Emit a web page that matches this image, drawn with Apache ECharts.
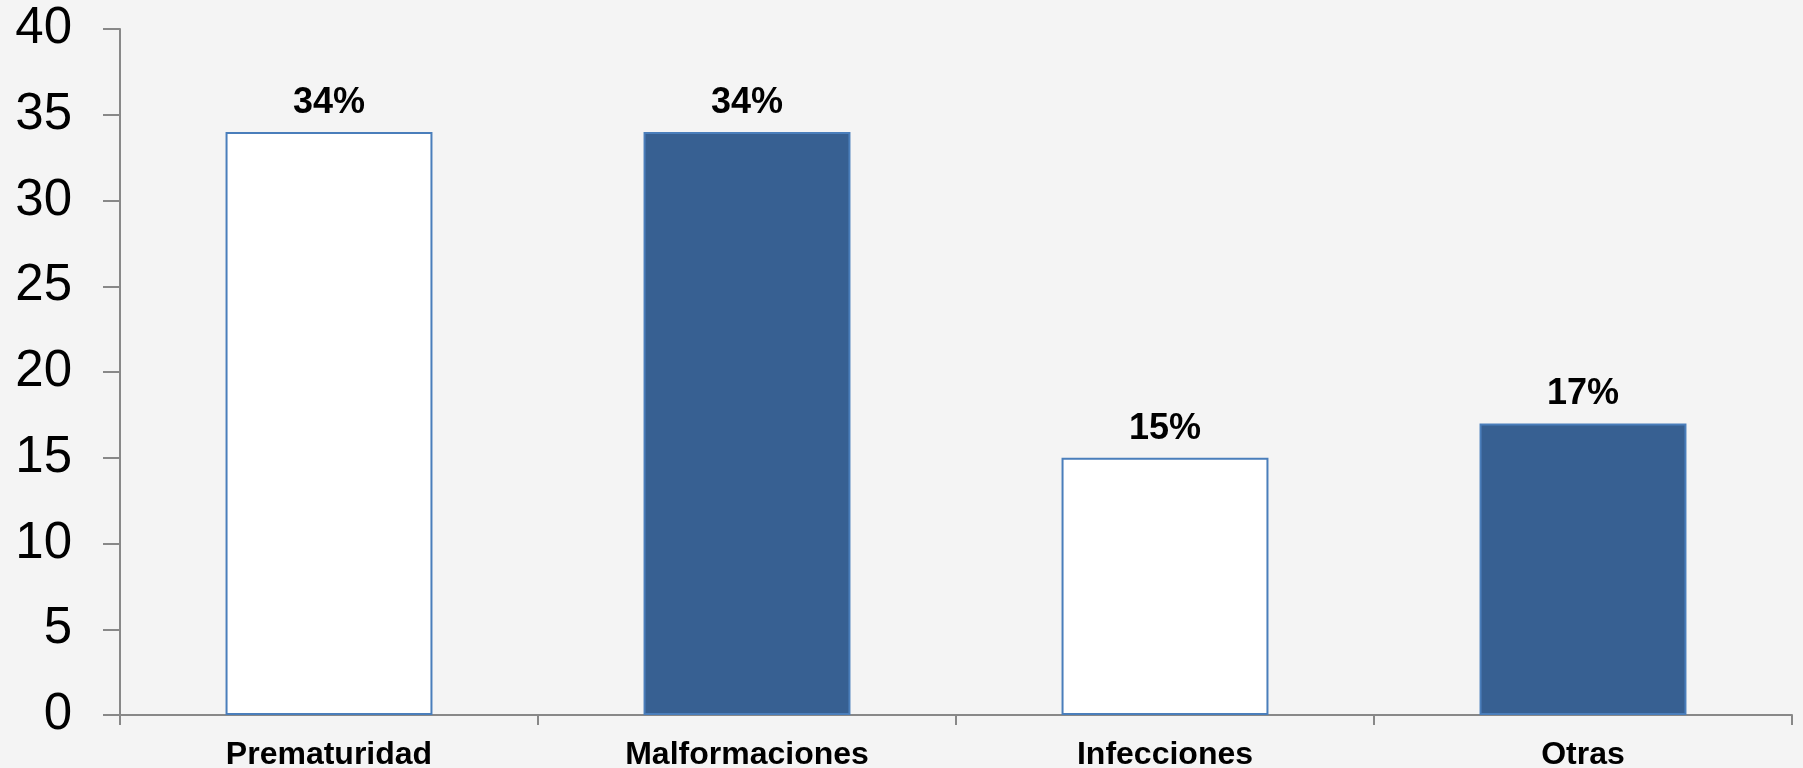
<!DOCTYPE html>
<html>
<head>
<meta charset="utf-8">
<script src="https://cdn.jsdelivr.net/npm/echarts@6/dist/echarts.min.js"></script>
<style>
  html, body { margin: 0; padding: 0; background: #f4f4f4; }
  #chart { width: 1803px; height: 768px; }
</style>
</head>
<body>
<div id="chart"></div>
<script>
const categories = ['Prematuridad', 'Malformaciones', 'Infecciones', 'Otras']
const values = [34, 34, 15, 17]
const valueLabels = ['34%', '34%', '15%', '17%']
const barFills = ['#ffffff', '#376092', '#ffffff', '#376092']

const chart = echarts.init(document.getElementById('chart'))

const option = {
  backgroundColor: '#f4f4f4',
  animation: false,
  grid: {
    left: 120,
    right: 11,
    top: 29,
    bottom: 53,
    outerBoundsMode: 'none'
  },
  xAxis: {
    type: 'category',
    data: categories,
    axisLine: { lineStyle: { color: '#888888', width: 2 } },
    axisTick: { show: true, length: 10, lineStyle: { color: '#888888', width: 2 } },
    axisLabel: {
      color: '#000',
      fontFamily: 'Liberation Sans, Arial, sans-serif',
      fontWeight: 'bold',
      fontSize: 32,
      margin: 24
    }
  },
  yAxis: {
    type: 'value',
    min: 0,
    max: 40,
    interval: 5,
    splitLine: { show: false },
    axisLine: { show: true, lineStyle: { color: '#888888', width: 2 } },
    axisTick: { show: true, length: 17, lineStyle: { color: '#888888', width: 2 } },
    axisLabel: {
      color: '#000',
      fontFamily: 'Liberation Sans, Arial, sans-serif',
      fontSize: 51,
      margin: 48
    }
  },
  series: [
    {
      type: 'bar',
      barWidth: '49.5%',
      data: values.map((v, i) => ({
        value: v,
        itemStyle: { color: barFills[i] }
      })),
      itemStyle: {
        borderColor: '#4a7ebb',
        borderWidth: 2
      },
      label: {
        show: true,
        position: 'top',
        distance: 11,
        color: '#000',
        fontFamily: 'Liberation Sans, Arial, sans-serif',
        fontWeight: 'bold',
        fontSize: 36,
        formatter: p => valueLabels[p.dataIndex]
      }
    }
  ]
}

chart.setOption(option)

window.addEventListener('resize', () => {
  chart.resize()
})
</script>
</body>
</html>
